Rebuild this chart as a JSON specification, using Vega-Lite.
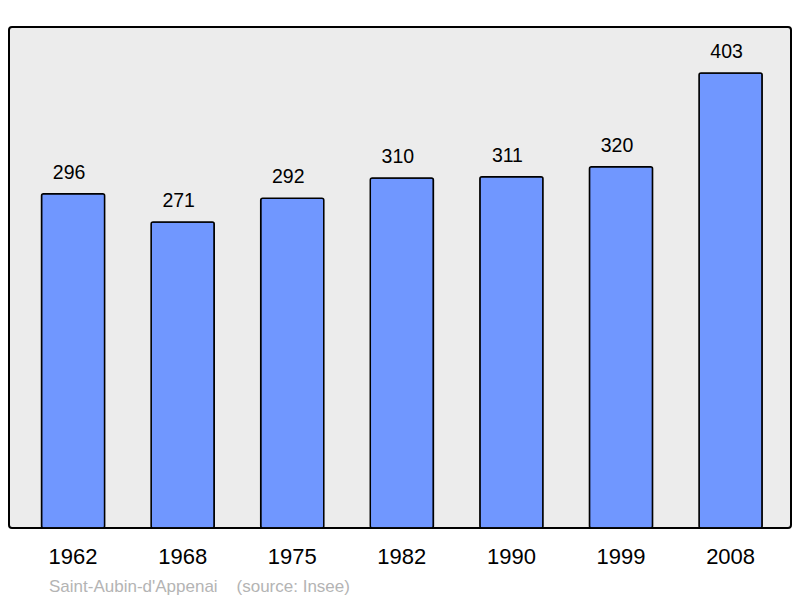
{
  "$schema": "https://vega.github.io/schema/vega-lite/v6.json",
  "width": 782,
  "height": 501,
  "autosize": "none",
  "padding": {"left": 9, "top": 27, "right": 9, "bottom": 70},
  "background": "white",
  "config": {
    "font": "Liberation Sans",
    "view": {"fill": "#ececec", "stroke": "black", "strokeWidth": 2, "cornerRadius": 3}
  },
  "data": {
    "values": [
      {"year": "1962", "pop": 296},
      {"year": "1968", "pop": 271},
      {"year": "1975", "pop": 292},
      {"year": "1982", "pop": 310},
      {"year": "1990", "pop": 311},
      {"year": "1999", "pop": 320},
      {"year": "2008", "pop": 403}
    ]
  },
  "title": {
    "text": "Saint-Aubin-d'Appenai\u00a0\u00a0\u00a0\u00a0(source: Insee)",
    "orient": "bottom",
    "anchor": "start",
    "frame": "group",
    "offset": 12,
    "dx": 40,
    "fontSize": 17,
    "fontWeight": "normal",
    "color": "#b4b4b4"
  },
  "encoding": {
    "x": {
      "field": "year",
      "type": "ordinal",
      "scale": {"paddingInner": 0.424, "paddingOuter": 0.28, "align": 0.53},
      "axis": {"title": null, "domain": false, "ticks": false, "labelAngle": 0, "labelFontSize": 22, "labelPadding": 18, "labelColor": "black"}
    },
    "y": {
      "field": "pop",
      "type": "quantitative",
      "scale": {"domain": [0, 443.7], "nice": false},
      "axis": null
    }
  },
  "layer": [
    {
      "mark": {"type": "bar", "fill": "#7097ff", "stroke": "black", "strokeWidth": 1.5, "cornerRadius": 2}
    },
    {
      "mark": {"type": "text", "baseline": "alphabetic", "dx": -4, "dy": -15, "fontSize": 19.5, "color": "black"},
      "encoding": {"text": {"field": "pop", "type": "quantitative"}}
    }
  ]
}
